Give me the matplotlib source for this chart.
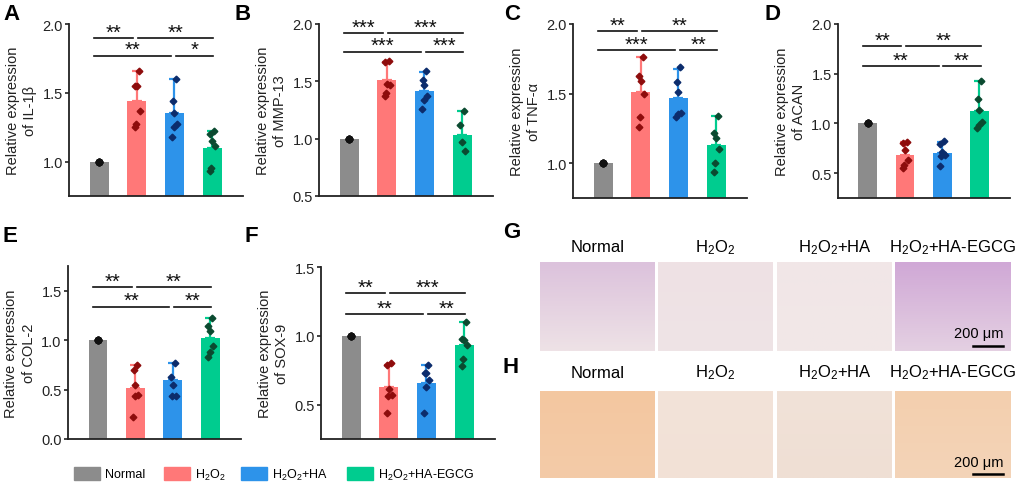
import matplotlib
matplotlib.use('Agg')
import matplotlib.pyplot as plt
from matplotlib.patches import Rectangle
import numpy as np

plt.rcParams['font.family'] = ['Liberation Sans', 'DejaVu Sans']
plt.rcParams['mathtext.default'] = 'regular'

# ---------------- data ----------------
groups = ['Normal', 'H$_2$O$_2$', 'H$_2$O$_2$+HA', 'H$_2$O$_2$+HA-EGCG']
bar_colors = ['#8c8c8c', '#ff7878', '#2d93ea', '#00cc8f']
dot_colors = ['#111111', '#8e0c0c', '#0c2c6c', '#0b4a30']

panel_letters = ['A', 'B', 'C', 'D', 'E', 'F']
genes = ['IL-1β', 'MMP-13', 'TNF-α', 'ACAN', 'COL-2', 'SOX-9']

il1b_mean = [1.00, 1.44, 1.35, 1.10]
il1b_sd = [0.00, 0.22, 0.25, 0.12]
il1b_pts = [[1.0] * 6,
            [1.66, 1.55, 1.55, 1.37, 1.27, 1.25],
            [1.60, 1.44, 1.35, 1.27, 1.25, 1.18],
            [1.22, 1.20, 1.15, 1.11, 0.95, 0.93]]

mmp13_mean = [1.00, 1.51, 1.42, 1.03]
mmp13_sd = [0.00, 0.16, 0.16, 0.21]
mmp13_pts = [[1.0] * 6,
             [1.68, 1.67, 1.48, 1.47, 1.40, 1.37],
             [1.59, 1.51, 1.47, 1.37, 1.34, 1.26],
             [1.24, 1.12, 0.97, 0.89]]

tnfa_mean = [1.00, 1.51, 1.47, 1.13]
tnfa_sd = [0.00, 0.25, 0.21, 0.21]
tnfa_pts = [[1.0] * 6,
            [1.76, 1.63, 1.59, 1.50, 1.33, 1.26],
            [1.69, 1.58, 1.51, 1.36, 1.35, 1.33],
            [1.34, 1.22, 1.18, 1.10, 1.00, 0.94]]

acan_mean = [1.00, 0.68, 0.70, 1.13]
acan_sd = [0.00, 0.13, 0.11, 0.30]
acan_pts = [[1.0] * 6,
            [0.81, 0.80, 0.73, 0.63, 0.58, 0.55],
            [0.82, 0.79, 0.71, 0.68, 0.67, 0.57],
            [1.43, 1.25, 1.14, 1.01, 0.98, 0.95]]

col2_mean = [1.00, 0.52, 0.60, 1.02]
col2_sd = [0.00, 0.23, 0.17, 0.20]
col2_pts = [[1.0] * 6,
            [0.75, 0.70, 0.55, 0.45, 0.43, 0.22],
            [0.77, 0.63, 0.55, 0.44, 0.44],
            [1.22, 1.14, 1.09, 0.94, 0.88, 0.83]]

sox9_mean = [1.00, 0.63, 0.66, 0.93]
sox9_sd = [0.00, 0.16, 0.13, 0.17]
sox9_pts = [[1.0] * 6,
            [0.80, 0.79, 0.61, 0.57, 0.56, 0.44],
            [0.79, 0.73, 0.73, 0.68, 0.63, 0.44],
            [1.10, 0.98, 0.97, 0.93, 0.83, 0.78]]

means = [il1b_mean, mmp13_mean, tnfa_mean, acan_mean, col2_mean, sox9_mean]
sds = [il1b_sd, mmp13_sd, tnfa_sd, acan_sd, col2_sd, sox9_sd]
points = [il1b_pts, mmp13_pts, tnfa_pts, acan_pts, col2_pts, sox9_pts]

ylims = [(0.75, 2.0), (0.5, 2.0), (0.75, 2.0), (0.25, 2.0), (0.0, 1.75), (0.25, 1.5)]
yticks = [[1.0, 1.5, 2.0], [0.5, 1.0, 1.5, 2.0], [1.0, 1.5, 2.0],
          [0.5, 1.0, 1.5, 2.0], [0.0, 0.5, 1.0, 1.5], [0.5, 1.0, 1.5]]

# significance: comparisons (i, j, row) and star labels per panel
comparisons = [(0, 1, 0), (1, 3, 0), (0, 2, 1), (2, 3, 1)]
sig_levels = [[1.90, 1.77], [1.92, 1.76], [1.95, 1.81], [1.78, 1.58], [1.535, 1.34], [1.31, 1.16]]
sig_text = [['**', '**', '**', '*'],
            ['***', '***', '***', '***'],
            ['**', '**', '***', '**'],
            ['**', '**', '**', '**'],
            ['**', '**', '**', '**'],
            ['**', '***', '**', '**']]

stain_rows = ['G', 'H']
stain_colors_top = [['#dcc2dc', '#efe1e4', '#f1e6e7', '#d0a8d6'],
                    ['#f4c7a0', '#f3e3d9', '#f1e2d8', '#f4cfae']]
stain_colors_bot = [['#eee2e6', '#eee4e6', '#f1e8e8', '#e4d0e2'],
                    ['#f3cba8', '#f2e1d6', '#efdfd4', '#f3d4b8']]

# ---------------- layout ----------------
W, H = 1024, 485
fig = plt.figure(figsize=(W / 100, H / 100), dpi=100)


def px_axes(l, t, r, b):
    return fig.add_axes([l / W, 1 - b / H, (r - l) / W, (b - t) / H])


boxes = [(69, 25, 243, 197), (319, 25, 493, 197), (573, 25, 747, 199),
         (838, 25, 1010, 199), (68, 267, 241, 440), (321, 268, 495, 440)]
letter_pos = [(3, 15), (234, 15), (504, 15), (764, 15), (3, 236), (245, 236)]

jitter = [0.05, -0.05, 0.0, 0.08, -0.02, -0.06]

for k in range(6):
    ax = px_axes(*boxes[k])
    x = np.arange(4)
    y0 = ylims[k][0]
    ax.bar(x, np.array(means[k]) - y0, bottom=y0, width=0.5, color=bar_colors, zorder=1)
    for i in range(4):
        if sds[k][i] > 0:
            ax.errorbar(x[i], means[k][i], yerr=[[0], [sds[k][i]]], color=bar_colors[i],
                        capsize=3.5, elinewidth=1.6, capthick=1.6, zorder=2)
        pts = points[k][i]
        if i == 0:
            ax.plot([x[i]] * len(pts), pts, 'o', color=dot_colors[i], ms=4.5, zorder=3)
        else:
            offs = [jitter[m % len(jitter)] for m in range(len(pts))]
            ax.plot(x[i] + np.array(offs), pts, 'D', color=dot_colors[i], ms=3.4, zorder=3)
    # significance lines
    for (i, j, row), txt in zip(comparisons, sig_text[k]):
        xl = i - 0.13 if i == 0 else i + 0.03
        xr = j - 0.1 if j < 3 else j + 0.03
        yy = sig_levels[k][row]
        ax.plot([xl, xr], [yy, yy], color='#111111', lw=1.2, clip_on=False)
        ax.annotate(txt, ((xl + xr) / 2, yy), xytext=(0, 0.3), textcoords='offset points',
                    ha='center', va='baseline', fontsize=14.5, color='#111111',
                    annotation_clip=False)
    ax.set_xlim(-0.8, 3.82)
    ax.set_ylim(*ylims[k])
    ax.set_yticks(yticks[k])
    ax.set_yticklabels(['%.1f' % v for v in yticks[k]], fontsize=10.5, color='#222222')
    ax.set_xticks([])
    for s in ['top', 'right']:
        ax.spines[s].set_visible(False)
    for s in ['left', 'bottom']:
        ax.spines[s].set_linewidth(1.3)
        ax.spines[s].set_color('#222222')
    ax.tick_params(axis='y', direction='out', length=3, width=1.2, pad=1.5, colors='#222222')
    ax.set_ylabel('Relative expression\nof ' + genes[k], fontsize=10.5, linespacing=1.3,
                  labelpad=4, color='#222222')
    fig.text(letter_pos[k][0] / W, 1 - letter_pos[k][1] / H, panel_letters[k],
             fontsize=16, fontweight='bold', va='center', ha='left')

# ---------------- staining image panels ----------------
img_x = [(540, 655), (658, 773), (777, 892), (895, 1011)]
img_y = [(263, 352), (392, 479)]
label_y = [248, 373]
row_letter_y = [233, 368]


def hex2rgb(h):
    h = h.lstrip('#')
    return np.array([int(h[i:i + 2], 16) / 255 for i in (0, 2, 4)])


for r in range(2):
    fig.text(503 / W, 1 - row_letter_y[r] / H, stain_rows[r], fontsize=16,
             fontweight='bold', va='center', ha='left')
    for c in range(4):
        l, rr = img_x[c]
        t, b = img_y[r]
        ax = px_axes(l, t, rr, b)
        top = hex2rgb(stain_colors_top[r][c])
        bot = hex2rgb(stain_colors_bot[r][c])
        grad = np.linspace(0, 1, 50)[:, None, None]
        img = top[None, None, :] * (1 - grad) + bot[None, None, :] * grad
        img = np.repeat(img, 2, axis=1)
        ax.imshow(img, aspect='auto', extent=(0, 1, 0, 1))
        ax.set_xlim(0, 1)
        ax.set_ylim(0, 1)
        ax.axis('off')
        fig.text((l + rr) / 2 / W, 1 - label_y[r] / H, groups[c], fontsize=12,
                 ha='center', va='center')
        if c == 3:
            ax.plot([0.67, 0.93], [0.06 if r == 0 else 0.05] * 2, color='black', lw=1.8)
            ax.text(0.72, 0.12 if r == 0 else 0.1, '200 μm', fontsize=10.5,
                    ha='center', va='bottom')

# ---------------- legend ----------------
ov = fig.add_axes([0, 0, 1, 1])
ov.set_xlim(0, W)
ov.set_ylim(H, 0)
ov.axis('off')
patch_x = [74, 164, 241, 347]
for c in range(4):
    ov.add_patch(Rectangle((patch_x[c], 468), 26, 13, color=bar_colors[c]))
    ov.text(patch_x[c] + 31, 475, groups[c], fontsize=9, va='center', ha='left')

fig.savefig('out.png', dpi=100)
